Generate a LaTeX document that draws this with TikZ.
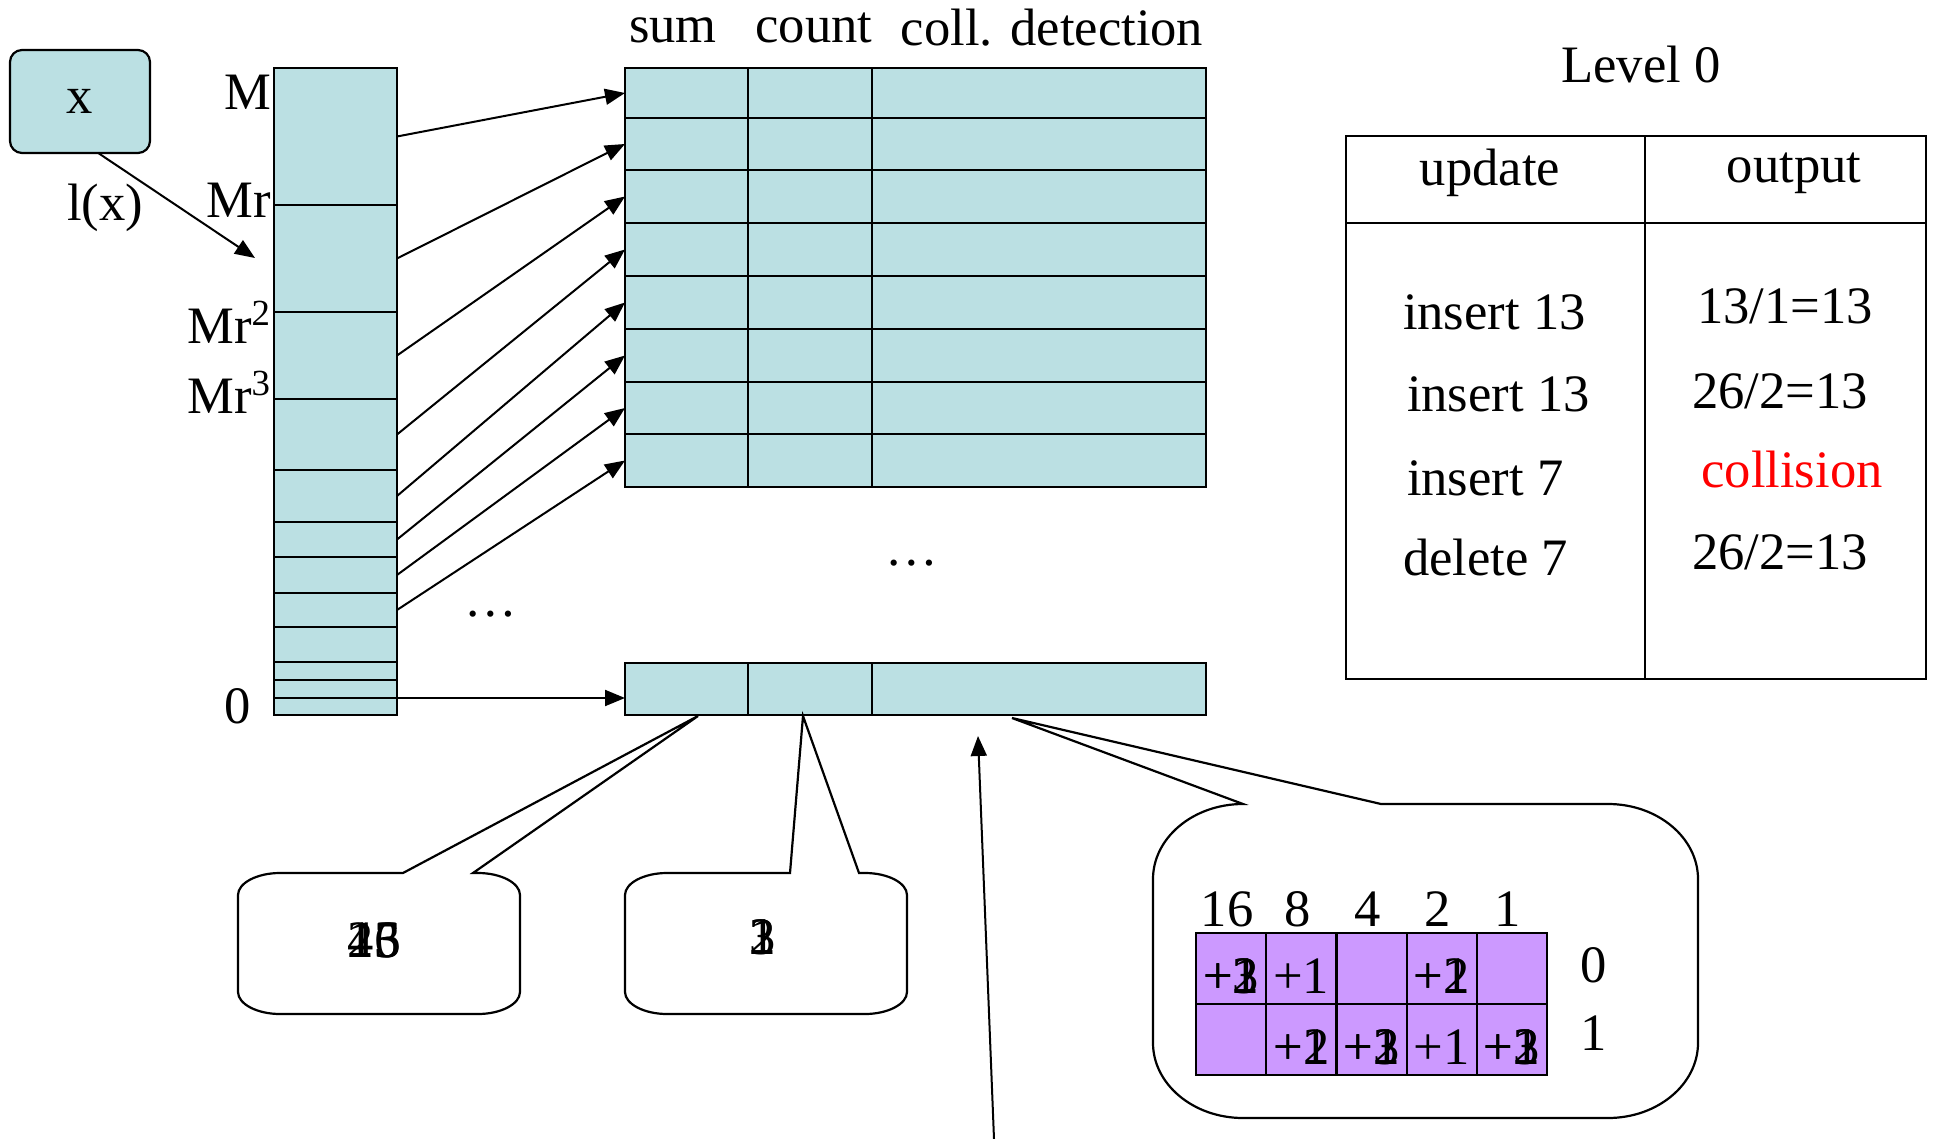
\documentclass[tikz,border=0pt]{standalone}
\usepackage{fontspec}
\setmainfont{Liberation Serif}
\usetikzlibrary{arrows.meta,calc}

\definecolor{cellblue}{RGB}{187,224,227}
\definecolor{bitpurple}{RGB}{204,153,255}

\begin{document}
\begin{tikzpicture}[x=0.5pt,y=0.5pt,yscale=-1,xscale=1,
  every node/.style={font=\fontsize{26.3}{30}\selectfont, inner sep=0pt, outer sep=0pt},
  colcell/.style={draw, fill=cellblue, line width=1.1pt, minimum width=61.5pt, anchor=north west},
  tabcell/.style={draw, fill=cellblue, line width=1.1pt, anchor=north west},
  bitcell/.style={draw, fill=bitpurple, line width=1.1pt, minimum width=35.1pt, minimum height=35.5pt, anchor=north west},
  arr/.style={-{Triangle[length=10pt,width=8pt]}, line width=1pt},
  bubble/.style={line width=1.1pt, fill=white}]

\useasboundingbox (0,0) rectangle (1933,1139);

% Key box
\node[draw, fill=cellblue, line width=1.1pt, rounded corners=6pt, minimum width=70pt, minimum height=51.5pt, anchor=north west] (xbox) at (10,50) {x};
\node (llx) at (105,208) {l(x)};
\coordinate (lx) at (255,258);
\draw[arr] ($(xbox.south west)!0.63!(xbox.south east)$) -- (lx);

% Level column
\foreach \ya/\yb [count=\i] in {68/205,205/312,312/399,399/470,470/522,522/557,557/593,593/627,627/662,662/680,680/698,698/715}
  \node[colcell, minimum height={(\yb-\ya)*0.5pt}] (s\i) at (274,\ya) {};

\node[anchor=east] (lM) at (271,92) {M};
\node[anchor=east] (lMr) at (271,200) {Mr};
\node[anchor=east] (lMrtwo) at (271,322) {Mr\textsuperscript{2}};
\node[anchor=east] (lMrthree) at (271,392) {Mr\textsuperscript{3}};
\node (lzero) at (238,706) {0};

% Counter table
\node (hsum) at (673,30) {sum};
\node (hcnt) at (814,28) {count};
\node (hdet) at (1052,28) {coll. detection};

\foreach \ya/\yb [count=\i] in {68/118,118/170,170/223,223/276,276/329,329/382,382/434,434/487} {
  \node[tabcell, minimum width=61.5pt, minimum height={(\yb-\ya)*0.5pt}] (sum\i) at (625,\ya) {};
  \node[tabcell, minimum width=62pt, minimum height={(\yb-\ya)*0.5pt}] (cnt\i) at (748,\ya) {};
  \node[tabcell, minimum width=167pt, minimum height={(\yb-\ya)*0.5pt}] (det\i) at (872,\ya) {};
}
\node[tabcell, minimum width=61.5pt, minimum height=26pt] (sumz) at (625,663) {};
\node[tabcell, minimum width=62pt, minimum height=26pt] (cntz) at (748,663) {};
\node[tabcell, minimum width=167pt, minimum height=26pt] (detz) at (872,663) {};

\node (dotsa) at (912,563) {\ldots};
\node (dotsb) at (491,614) {\ldots};

% Level to row
\foreach \i in {1,...,8}
  \draw[arr] (s\i.east) -- (sum\i.west);
\draw[arr] (s12.north east) -- (s12.north east -| sumz.west);

% Callouts
\coordinate (tipsum) at (698,716);
\coordinate (tipcnt) at (803,716);
\coordinate (tipdet) at (1012,718);

\draw[bubble] (403,873) -- (tipsum) -- (473,873) -- (478,873) .. controls (501,873) and (520,883) .. (520,895) -- (520,992) .. controls (520,1004) and (501,1014) .. (478,1014) -- (280,1014) .. controls (257,1014) and (238,1004) .. (238,992) -- (238,895) .. controls (238,883) and (257,873) .. (280,873) -- cycle;
\node (sumval) at (374,940) {\rlap{13}\rlap{26}45};

\draw[bubble] (790,873) -- (tipcnt) -- (859,873) -- (865,873) .. controls (888,873) and (907,883) .. (907,895) -- (907,992) .. controls (907,1004) and (888,1014) .. (865,1014) -- (667,1014) .. controls (644,1014) and (625,1004) .. (625,992) -- (625,895) .. controls (625,883) and (644,873) .. (667,873) -- cycle;
\node (cntval) at (763,937) {\rlap{1}\rlap{2}3};

\draw[bubble] (1243,804) -- (tipdet) -- (1381,804) -- (1608,804) .. controls (1658,804) and (1698,838) .. (1698,879) -- (1698,1043) .. controls (1698,1084) and (1658,1118) .. (1608,1118) -- (1243,1118) .. controls (1193,1118) and (1153,1084) .. (1153,1043) -- (1153,879) .. controls (1153,838) and (1193,804) .. (1243,804) -- cycle;

% Bit counters
\foreach \r in {0,1}
  \foreach \c [count=\j] in {16,8,4,2,1}
    \node[bitcell] (b\r-\c) at ({1196+(\j-1)*70.2},{933+\r*71}) {};
\foreach \c in {16,8,4,2,1}
  \node (h\c) at ($(b0-\c.north)+(-4,-24)$) {\c};
\node (rowa) at (1594,965) {0};
\node (rowb) at (1594,1033) {1};
\foreach \cell/\txt in {b0-16/{\rlap{+1}\rlap{+2}+3}, b0-8/{+1}, b0-2/{\rlap{+1}+2},
    b1-8/{\rlap{+1}+2}, b1-4/{\rlap{+1}\rlap{+2}+3}, b1-2/{+1}, b1-1/{\rlap{+1}\rlap{+2}+3}}
  \node (t\cell) at ($(\cell)+(0,8)$) {\txt};

% Pointer from below
\coordinate (vbot) at (994,1139);
\coordinate (vtip) at (978,736);
\draw[arr] (vbot) -- (vtip);

% Level 0 table
\node (lvl) at (1641,65) {Level 0};
\draw[line width=1.1pt] (1346,136) rectangle (1926,679);
\draw[line width=1.1pt] (1645,136) -- (1645,679);
\draw[line width=1.1pt] (1346,223) -- (1926,223);
\node (hupd) at (1490,173) {update};
\node (hout) at (1794,173) {output};
\node[anchor=west] (ua) at (1403,312) {insert 13};
\node[anchor=west] (ub) at (1407,394) {insert 13};
\node[anchor=west] (uc) at (1407,478) {insert 7};
\node[anchor=west] (ud) at (1403,558) {delete 7};
\node (oa) at (1785,306) {13/1=13};
\node (ob) at (1780,391) {26/2=13};
\node[text=red] (oc) at (1792,470) {collision};
\node (od) at (1780,552) {26/2=13};

\end{tikzpicture}
\end{document}
